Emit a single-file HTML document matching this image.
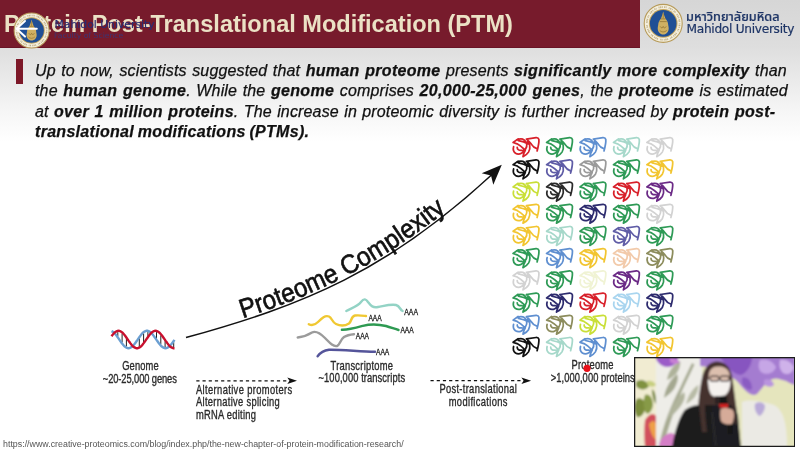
<!DOCTYPE html>
<html><head><meta charset="utf-8">
<style>
*{margin:0;padding:0;box-sizing:border-box}
html,body{width:800px;height:453px;overflow:hidden}
body{position:relative;background:#fff;font-family:"Liberation Sans",Arial,sans-serif;color:#111}
#bg{position:absolute;left:0;top:47px;width:800px;height:406px;background:linear-gradient(to bottom,#dedede 0px,#e9e9e9 30px,#f6f6f6 65px,#fff 95px,#fff 100%)}
#hdr{position:absolute;left:0;top:0;width:640px;height:48px;background:#771b2c;border-bottom:1px solid #691426}
#hdrR{position:absolute;left:640px;top:0;width:160px;height:48px;background:linear-gradient(to bottom,#d6d6d6,#dedede)}
#title{position:absolute;left:4px;top:11px;font-weight:bold;font-size:23.55px;color:#ebe1c5;white-space:nowrap}
#bar{position:absolute;left:16px;top:59px;width:7px;height:25px;background:#7d1828}
#para{position:absolute;left:35px;top:61px;width:770px;font-size:16px;line-height:20.3px;font-style:italic;color:#111;letter-spacing:0.15px;-webkit-text-stroke:0.25px #111}
#para b{font-weight:bold;letter-spacing:0.3px}
.ln{white-space:nowrap}
#url{position:absolute;left:3px;top:439px;font-size:8.85px;color:#555;white-space:nowrap}
#mu1{position:absolute;left:54.5px;top:17.5px;font-family:"DejaVu Sans","Liberation Sans",sans-serif;font-size:10.8px;color:#292d72;white-space:nowrap;-webkit-text-stroke:0.2px #292d72}
#mu2{position:absolute;left:54px;top:31px;font-family:"DejaVu Sans","Liberation Sans",sans-serif;font-size:7.7px;color:#33387e;white-space:nowrap;opacity:.85}
#th{position:absolute;left:686px;top:10.5px;font-family:"Noto Sans Thai","Liberation Sans",sans-serif;font-size:12.7px;font-weight:500;color:#1e3566;-webkit-text-stroke:0.2px #1e3566;white-space:nowrap;line-height:14px}
#mu{position:absolute;left:686.5px;top:21.8px;font-family:"DejaVu Sans","Liberation Sans",sans-serif;font-size:12.2px;color:#1e3566;-webkit-text-stroke:0.2px #1e3566;white-space:nowrap;letter-spacing:-0.3px}
svg{position:absolute;left:0;top:0}
</style></head><body>
<div id="bg"></div>
<div id="hdr"></div>
<div id="hdrR"></div>
<div id="title">Protein Post-Translational Modification (PTM)</div>
<svg width="800" height="453" viewBox="0 0 800 453">
<defs>
<g id="logo">
<circle r="19" fill="#f3eedc" stroke="#b79b5a" stroke-width="1.1"/>
<circle r="16.4" fill="none" stroke="#9c8550" stroke-width="1.7" stroke-dasharray="0.9 0.6 1.3 0.7 0.8 1.4 1.1 0.6 0.7 2.2" opacity=".6"/>
<circle r="14.3" fill="#c4a55c"/>
<circle r="13.3" fill="#1f4f95"/>
<path d="M0 -12 C0.6 -9,1.5 -7,2.2 -5 C3.8 -3,5 -1,5 1.5 C5.5 4,6 6,4.5 8.5 C3 10.5,1.5 11,0 11 C-1.5 11,-3 10.5,-4.5 8.5 C-6 6,-5.5 4,-5 1.5 C-5 -1,-3.8 -3,-2.2 -5 C-1.5 -7,-0.6 -9,0 -12Z" fill="#cfb062"/>
<path d="M-2.4 -4.5 H2.4 M-3.6 -1.8 H3.6 M-3 3 C-2 5,-0.5 5,0 3 C0.5 5,2 5,3 3 M-3.5 7 C-1.5 9,1.5 9,3.5 7 M0 -10 V-5" stroke="#8d6f2e" stroke-width=".7" fill="none"/>
</g>
</defs>
<use href="#logo" transform="translate(31.6 30.5) scale(0.92)"/>
<use href="#logo" transform="translate(663.2 23.4)"/>
<path d="M16.5 28.7 H36.8 M25 21 L16.5 28.7 L25 36.6" stroke="#fff" stroke-width="2" fill="none" stroke-linecap="round" stroke-linejoin="round"/>
</svg>
<div id="mu1">Mahidol University</div>
<div id="mu2">Faculty of Science</div>
<div id="th">มหาวิทยาลัยมหิดล</div>
<div id="mu">Mahidol University</div>
<div id="bar"></div>
<div id="para"><div class="ln" style="word-spacing:0.9px"><span>Up to now, scientists suggested that <b>human proteome</b> presents <b>significantly more complexity</b> than</span></div><div class="ln" style="word-spacing:1.0px"><span>the <b>human genome</b>. While the <b>genome</b> comprises <b>20,000-25,000 genes</b>, the <b>proteome</b> is estimated</span></div><div class="ln" style="word-spacing:0.75px"><span>at <b>over 1 million proteins</b>. The increase in proteomic diversity is further increased by <b>protein post-</b></span></div><div class="ln" style="word-spacing:-1px"><span><b>translational modifications (PTMs).</b></span></div></div>
<svg width="800" height="453" viewBox="0 0 800 453" font-family="Liberation Sans, Arial, sans-serif">
<defs>
<g id="prot" fill="none" stroke-width="1.75" stroke-linecap="round" stroke-linejoin="round">
<path d="M13.9 1.8 L23.6 0.4 Q26 0.3 26.4 2.2 C26.6 5,26 8.5,24.6 13.6 M13.9 1.8 C15.5 3,17.5 5,18.8 6.8 C20 8.8,21.5 10.5,24.4 11.3 M5.6 1.6 L0.6 5.2 L4.6 6.5 M4.1 2.6 C6 1.8,8.5 1.3,10.4 1.9 C12.3 2.6,13.6 4.5,14.2 6.8 C14.6 8.8,14 10.5,13 11.8 M4.6 6.5 C7 7.8,9.5 9.8,12 12.2 M5.9 3.4 C9 4,12.5 5,15.6 6.6 M1.1 9.4 C0.5 11.5,0.8 14.2,3 15.9 C4.8 17,7.2 16.9,8.9 16 C10.4 15.2,11.2 14,11 12.8 M4.7 10.1 C4.8 12,5.8 13.2,9.3 13 M10.5 19.3 C12.5 18.3,14.8 16.8,16 14.8 C17.3 12.5,17.6 10,17.2 8 C16.8 6.2,16 5.2,15 4.4 M10.5 19.3 C10.8 17.3,11.6 15,12.8 13"/>
</g>
</defs>
<!-- curve arrow -->
<path d="M186 337.6 C304.2 305.1 387.4 271.2 492 174.5" stroke="#111" stroke-width="1.6" fill="none"/>
<path d="M501.8 164.7 L481.7 173.2 L491 175.5 L493.3 184.8Z" fill="#111"/>
<path id="tp" d="M185 335.4 C303.2 302.9 386.4 269 495 168.8" fill="none"/>
<text font-size="26.5" fill="#111" stroke="#111" stroke-width="0.65"><textPath href="#tp" startOffset="60" textLength="232" lengthAdjust="spacingAndGlyphs">Proteome Complexity</textPath></text>
<path d="M117.8 332.1V336.2M122.1 333.6V342.3M126.4 338.7V346.5M139.3 338.4V346.3M143.6 333.4V342.1M147.9 332.1V335.9M156.5 332.1V338.7M160.8 335.3V344.4M165.1 341.2V347.0M173.7 342.2V347.0" stroke="#222" stroke-width="1" fill="none"/>
<path d="M111.5 331.1 L112.5 331.6 L113.5 332.3 L114.5 333.2 L115.5 334.3 L116.5 335.6 L117.5 337.0 L118.5 338.4 L119.5 339.9 L120.5 341.3 L121.5 342.7 L122.5 344.1 L123.5 345.2 L124.5 346.3 L125.5 347.1 L126.5 347.7 L127.5 348.1 L128.5 348.2 L129.5 348.1 L130.5 347.7 L131.5 347.1 L132.5 346.3 L133.5 345.2 L134.5 344.1 L135.5 342.7 L136.5 341.3 L137.5 339.9 L138.5 338.4 L139.5 337.0 L140.5 335.6 L141.5 334.3 L142.5 333.2 L143.5 332.3 L144.5 331.6 L145.5 331.1 L146.5 330.8 L147.5 330.8 L148.5 331.1 L149.5 331.6 L150.5 332.3 L151.5 333.2 L152.5 334.3 L153.5 335.6 L154.5 337.0 L155.5 338.4 L156.5 339.9 L157.5 341.3 L158.5 342.7 L159.5 344.1 L160.5 345.2 L161.5 346.3 L162.5 347.1 L163.5 347.7 L164.5 348.1 L165.5 348.2 L166.5 348.1 L167.5 347.7 L168.5 347.1 L169.5 346.3 L170.5 345.2 L171.5 344.1 L172.5 342.7 L173.5 341.3 L174.5 339.9" stroke="#6b9fd2" stroke-width="2.4" fill="none"/>
<path d="M111.5 336.3 L112.5 334.9 L113.5 333.8 L114.5 332.7 L115.5 331.9 L116.5 331.3 L117.5 330.9 L118.5 330.8 L119.5 330.9 L120.5 331.3 L121.5 331.9 L122.5 332.7 L123.5 333.8 L124.5 334.9 L125.5 336.3 L126.5 337.7 L127.5 339.1 L128.5 340.6 L129.5 342.0 L130.5 343.4 L131.5 344.7 L132.5 345.8 L133.5 346.7 L134.5 347.4 L135.5 347.9 L136.5 348.2 L137.5 348.2 L138.5 347.9 L139.5 347.4 L140.5 346.7 L141.5 345.8 L142.5 344.7 L143.5 343.4 L144.5 342.0 L145.5 340.6 L146.5 339.1 L147.5 337.7 L148.5 336.3 L149.5 334.9 L150.5 333.8 L151.5 332.7 L152.5 331.9 L153.5 331.3 L154.5 330.9 L155.5 330.8 L156.5 330.9 L157.5 331.3 L158.5 331.9 L159.5 332.7 L160.5 333.8 L161.5 334.9 L162.5 336.3 L163.5 337.7 L164.5 339.1 L165.5 340.6 L166.5 342.0 L167.5 343.4 L168.5 344.7 L169.5 345.8 L170.5 346.7 L171.5 347.4 L172.5 347.9 L173.5 348.2 L174.5 348.2" stroke="#c8102e" stroke-width="2.4" fill="none"/>
<use href="#prot" x="512.5" y="137.3" stroke="#d8202a"/>
<use href="#prot" x="546.0" y="137.3" stroke="#2e9a56"/>
<use href="#prot" x="579.4" y="137.3" stroke="#5f8fd0"/>
<use href="#prot" x="612.9" y="137.3" stroke="#a6d8ca"/>
<use href="#prot" x="646.3" y="137.3" stroke="#d2d2d2"/>
<use href="#prot" x="512.5" y="159.5" stroke="#111111"/>
<use href="#prot" x="546.0" y="159.5" stroke="#5f5ca6"/>
<use href="#prot" x="579.4" y="159.5" stroke="#9a9a9a"/>
<use href="#prot" x="612.9" y="159.5" stroke="#2e9a56"/>
<use href="#prot" x="646.3" y="159.5" stroke="#f2c530"/>
<use href="#prot" x="512.5" y="181.7" stroke="#c9df38"/>
<use href="#prot" x="546.0" y="181.7" stroke="#2b2b2b"/>
<use href="#prot" x="579.4" y="181.7" stroke="#2e9a56"/>
<use href="#prot" x="612.9" y="181.7" stroke="#d8202a"/>
<use href="#prot" x="646.3" y="181.7" stroke="#6b2a86"/>
<use href="#prot" x="512.5" y="203.9" stroke="#f2c530"/>
<use href="#prot" x="546.0" y="203.9" stroke="#2e9a56"/>
<use href="#prot" x="579.4" y="203.9" stroke="#2d2b6e"/>
<use href="#prot" x="612.9" y="203.9" stroke="#2e9a56"/>
<use href="#prot" x="646.3" y="203.9" stroke="#d2d2d2"/>
<use href="#prot" x="512.5" y="226.1" stroke="#f2c530"/>
<use href="#prot" x="546.0" y="226.1" stroke="#a6d8ca"/>
<use href="#prot" x="579.4" y="226.1" stroke="#2e9a56"/>
<use href="#prot" x="612.9" y="226.1" stroke="#5f5ca6"/>
<use href="#prot" x="646.3" y="226.1" stroke="#2e9a56"/>
<use href="#prot" x="512.5" y="248.3" stroke="#2e9a56"/>
<use href="#prot" x="546.0" y="248.3" stroke="#5f8fd0"/>
<use href="#prot" x="579.4" y="248.3" stroke="#f2c530"/>
<use href="#prot" x="612.9" y="248.3" stroke="#f2caaa"/>
<use href="#prot" x="646.3" y="248.3" stroke="#8c8c5c"/>
<use href="#prot" x="512.5" y="270.5" stroke="#d2d2d2"/>
<use href="#prot" x="546.0" y="270.5" stroke="#2e9a56"/>
<use href="#prot" x="579.4" y="270.5" stroke="#f0f3d4"/>
<use href="#prot" x="612.9" y="270.5" stroke="#6b2a86"/>
<use href="#prot" x="646.3" y="270.5" stroke="#2e9a56"/>
<use href="#prot" x="512.5" y="292.7" stroke="#2e9a56"/>
<use href="#prot" x="546.0" y="292.7" stroke="#2d2b6e"/>
<use href="#prot" x="579.4" y="292.7" stroke="#d8202a"/>
<use href="#prot" x="612.9" y="292.7" stroke="#a9d5ef"/>
<use href="#prot" x="646.3" y="292.7" stroke="#2d2b6e"/>
<use href="#prot" x="512.5" y="314.9" stroke="#5f8fd0"/>
<use href="#prot" x="546.0" y="314.9" stroke="#8c8c5c"/>
<use href="#prot" x="579.4" y="314.9" stroke="#c9df38"/>
<use href="#prot" x="612.9" y="314.9" stroke="#d2d2d2"/>
<use href="#prot" x="646.3" y="314.9" stroke="#2e9a56"/>
<use href="#prot" x="512.5" y="337.1" stroke="#111111"/>
<use href="#prot" x="546.0" y="337.1" stroke="#a6d8ca"/>
<use href="#prot" x="579.4" y="337.1" stroke="#5f8fd0"/>
<use href="#prot" x="612.9" y="337.1" stroke="#2e9a56"/>
<use href="#prot" x="646.3" y="337.1" stroke="#f2c530"/>
<!-- transcripts -->
<g fill="none" stroke-width="2.4" stroke-linecap="round" stroke-linejoin="round">
<path d="M346.3 311 C352 308,358 306,361 302 C364 298,366 299,368 302 C371 306,373 308,378 307 C384 306,390 304,396 305 C400 306,400 310,402.6 311" stroke="#93d3c5"/>
<path d="M308.8 324.2 C312 326,315 325,318 322 C322 318,325 315,329 316.5 C332 318,332 322,336 324 C340 326,345 326,349 323.5 C352 321,351 316,355 315.5 C359 315,362 315.5,366 316" stroke="#f0c832"/>
<path d="M341.9 329.7 C348 330,355 328,362.8 325.8 C370 324,378 324,386 326 C391 327.5,395 329,398.5 330" stroke="#2e9a52"/>
<path d="M297.7 337.5 C303 337,308 335,312 332.5 C316 330.5,320 333,325 338 C329 342,333 347,337 346 C340 345,340 340,344 337 C347 335,350 334.5,354 334.2" stroke="#9b9b9b"/>
<path d="M317.6 356.2 C320 353,324 350.5,329 349.8 C340 349.5,360 351.5,375 351.8" stroke="#55559a"/>
</g>
<g font-size="8.6" fill="#1a1a1a" stroke="#1a1a1a" stroke-width="0.3">
<text x="404.3" y="314.5" textLength="13.7" lengthAdjust="spacingAndGlyphs">AAA</text>
<text x="368.4" y="321" textLength="13.2" lengthAdjust="spacingAndGlyphs">AAA</text>
<text x="400.4" y="333.3" textLength="13.2" lengthAdjust="spacingAndGlyphs">AAA</text>
<text x="355.8" y="338.7" textLength="13.2" lengthAdjust="spacingAndGlyphs">AAA</text>
<text x="376" y="355.3" textLength="13.3" lengthAdjust="spacingAndGlyphs">AAA</text>
</g>
<!-- dashed arrows -->
<path d="M196.3 380.8 H288" stroke="#111" stroke-width="1.3" stroke-dasharray="3.2 3"/>
<path d="M297 380.8 L287.3 377.6 L289.5 380.8 L287.3 384Z" fill="#111"/>
<path d="M430.5 380.7 H522" stroke="#111" stroke-width="1.3" stroke-dasharray="3.2 3"/>
<path d="M531.1 380.7 L521.4 377.5 L523.6 380.7 L521.4 383.9Z" fill="#111"/>
<g font-size="12.3" fill="#2a2a2a" stroke="#2a2a2a" stroke-width="0.35" transform="scale(0.76 1)">
<text x="160.8" y="370.2" textLength="48.0" lengthAdjust="spacing">Genome</text>
<text x="135.3" y="383.4" textLength="97.4" lengthAdjust="spacing">~20-25,000 genes</text>
<text x="257.9" y="394" textLength="126.6" lengthAdjust="spacing">Alternative promoters</text>
<text x="257.9" y="406.5" textLength="110.3" lengthAdjust="spacing">Alternative splicing</text>
<text x="257.9" y="419" textLength="78.9" lengthAdjust="spacing">mRNA editing</text>
<text x="435.0" y="370" textLength="82.0" lengthAdjust="spacing">Transcriptome</text>
<text x="419.1" y="382.3" textLength="113.9" lengthAdjust="spacing">~100,000 transcripts</text>
<text x="578.2" y="393.3" textLength="102.0" lengthAdjust="spacing">Post-translational</text>
<text x="590.4" y="406.4" textLength="77.4" lengthAdjust="spacing">modifications</text>
<text x="752.0" y="369.5" textLength="55.3" lengthAdjust="spacing">Proteome</text>
<text x="724.7" y="382.2" textLength="110.5" lengthAdjust="spacing">&gt;1,000,000 proteins</text>
</g>
<circle cx="587" cy="368.3" r="3.6" fill="#e8111a"/>
</svg>
<div id="url">https://www.creative-proteomics.com/blog/index.php/the-new-chapter-of-protein-modification-research/</div>
<svg style="position:absolute;left:634px;top:357px" width="161" height="90" viewBox="634 357 161 90">
<defs><filter id="bl" x="-5%" y="-5%" width="110%" height="110%"><feGaussianBlur stdDeviation="1.1"/></filter>
<clipPath id="cc"><rect x="635.2" y="358.2" width="158.8" height="87.6"/></clipPath></defs>
<rect x="634" y="357" width="161" height="90" fill="#1c1c1c"/>
<g clip-path="url(#cc)" filter="url(#bl)">
<rect x="634" y="357" width="162" height="91" fill="#e5e5bd"/>
<!-- left cream panel -->
<rect x="634" y="357" width="22" height="91" fill="#f1ecd2"/>
<path d="M636 382 C640 378,647 380,649 386 C646 391,639 390,636 386Z" fill="#809240"/>
<path d="M647 381 C651 380,655 382,656 385 C653 388,649 387,647 384Z" fill="#c7cf80"/>
<path d="M636 400 C639 396,645 399,646 406 C645 413,641 418,637 417 C634 412,634 405,636 400Z" fill="#7a8c3a"/>
<path d="M645 395 C649 393,653 398,653 405 C652 411,649 415,646 413 C643 408,643 400,645 395Z" fill="#879a46"/>
<path d="M652 389 C655 391,656 396,656 404 C654 402,652 396,652 389Z" fill="#6f8234"/>
<path d="M645 420 C649 414,653 412,656 416 L656 447 L645 447 C644 438,644 428,645 420Z" fill="#d2505c"/>
<path d="M649 424 C652 420,655 420,656 424 L656 440 C653 438,650 432,649 424Z" fill="#eea048"/>
<!-- middle white panel -->
<rect x="656" y="357" width="46" height="91" fill="#eeede8"/>
<path d="M659 446 C663 425,671 405,680 388 C684 379,688 371,692 363 L694.5 364.5 C690 374,686 382,682 391 C675 408,668 428,663 447Z" fill="#a7ab93"/>
<path d="M668 418 C670 409,676 399,684 392 C686 396,684 402,680 407 C676 412,672 416,668 418Z" fill="#b0b49c"/>
<path d="M664 398 C665 389,670 380,677 374 C679 378,677 384,674 389 C671 393,667 396,664 398Z" fill="#a4a890"/>
<path d="M667 380 C668 372,673 365,680 361 C681 365,679 370,676 374 C673 377,670 379,667 380Z" fill="#aeb29a"/>
<path d="M676 436 C678 427,683 418,690 412 C692 416,690 421,686 426 C683 430,679 434,676 436Z" fill="#b4b8a2"/>
<path d="M686 404 C688 396,692 389,698 385 C699 389,697 394,694 398 C691 401,688 403,686 404Z" fill="#b8bba6"/>
<path d="M656 357 L678 357 C678 362,674 367,667 367 C662 367,658 363,656 359Z" fill="#9b5cc8"/>
<path d="M670 358 C674 358,678 360,680 362 C677 365,673 364,670 362Z" fill="#c880d4"/>
<path d="M659 447 C659 440,664 434,671 433 C677 434,680 440,680 447Z" fill="#d47ec6"/>
<!-- right background -->
<path d="M742 402 C750 399,762 401,774 405 C783 410,787 422,787 447 L742 447Z" fill="#ebeae4"/>
<path d="M755 404 C758 401,764 402,765 406 C765 411,761 416,759 416 C756 413,754 409,755 404Z" fill="#b9aad8"/>
<!-- purple flowers -->
<path d="M700 357 L795 357 L795 385 C790 384,786 380,782 380 C778 378,774 378,770 380 C765 384,762 388,757 394 C752 397,747 392,744 389 C740 385,737 380,733 378 L715 368 L700 366Z" fill="#a47bd0"/>
<path d="M720 357 L752 357 C752 364,748 372,741 375 C734 375,726 366,720 357Z" fill="#8755c0"/>
<path d="M760 360 C766 358,773 361,776 367 C774 373,767 376,761 372 C758 368,758 364,760 360Z" fill="#c6a6e6"/>
<path d="M742 378 C747 376,752 381,752 389 C749 391,744 388,742 383Z" fill="#8a5cc2"/>
<path d="M780 360 C786 359,792 362,794 368 C792 374,786 376,782 372 C779 368,779 364,780 360Z" fill="#cfb2ea"/>
<path d="M764 380 C768 378,773 380,774 385 C771 388,766 387,764 384Z" fill="#b994de"/>
<!-- woman hair -->
<path d="M698 432 C697 412,699 392,702 378 C704 368,709 362,716 361.5 C724 361,730 366,732 376 C734 388,735 400,737 412 C738 422,738 430,738 436 L718 436Z" fill="#44322d"/>
<!-- face -->
<path d="M709 374 C710 368,714 366.5,719 366.5 C724 366.5,728 368.5,729.5 374 L730 382 L708.5 382Z" fill="#dcbfae"/>
<path d="M708 380 L730.5 380 C730.5 388,728.5 394,723 396.8 C719 398,714 397.5,711 394.5 C709 391,708 386,708 380Z" fill="#f5f1ee"/>
<rect x="710.3" y="376.2" width="8.4" height="5" rx="1.6" fill="none" stroke="#35272a" stroke-width="1.3"/><rect x="720.3" y="376.2" width="8.8" height="5" rx="1.6" fill="none" stroke="#35272a" stroke-width="1.3"/>
<path d="M715 396 L724 396 L724 404 L715 404Z" fill="#2a2222"/>
<!-- jacket -->
<path d="M672 448 C674 434,678 420,684 411 C688 407,693 405.5,700 405 L712 405 L716 448Z" fill="#1b1b1d"/>
<path d="M712 405 L730 405 C735 407,737 411,738 416 C739 428,740 438,741 448 L712 448Z" fill="#1e1e20"/>
<path d="M699 405 C700 414,701 424,702 432 L707 432 C706 422,705 414,705 405Z" fill="#44322d"/>
<path d="M732 405 C735 410,736 416,737 424 L734.5 424 C734 416,733 410,731 406Z" fill="#44322d"/>
<path d="M712 412 L716 447" stroke="#3a3a3c" stroke-width=".8"/>
<!-- hand & mic -->
<path d="M727 407 L732 407 L732.5 434 L728 434Z" fill="#151515"/>
<path d="M720.5 409 C724 407.5,731 407.5,733.5 411 C734.5 415,734 420,732 424 C728 425,723 424,721 421 C720 418,720 413,720.5 409Z" fill="#d6ab99"/>
<path d="M720 396.5 C721.5 395.5,725.5 395.5,727 396.5 L727.3 404.5 L720 404.5Z" fill="#141414"/>
<path d="M719.2 404 L728.2 404 L728 407.8 L719.6 407.8Z" fill="#d42222"/>
</g>
</svg>
</body></html>
